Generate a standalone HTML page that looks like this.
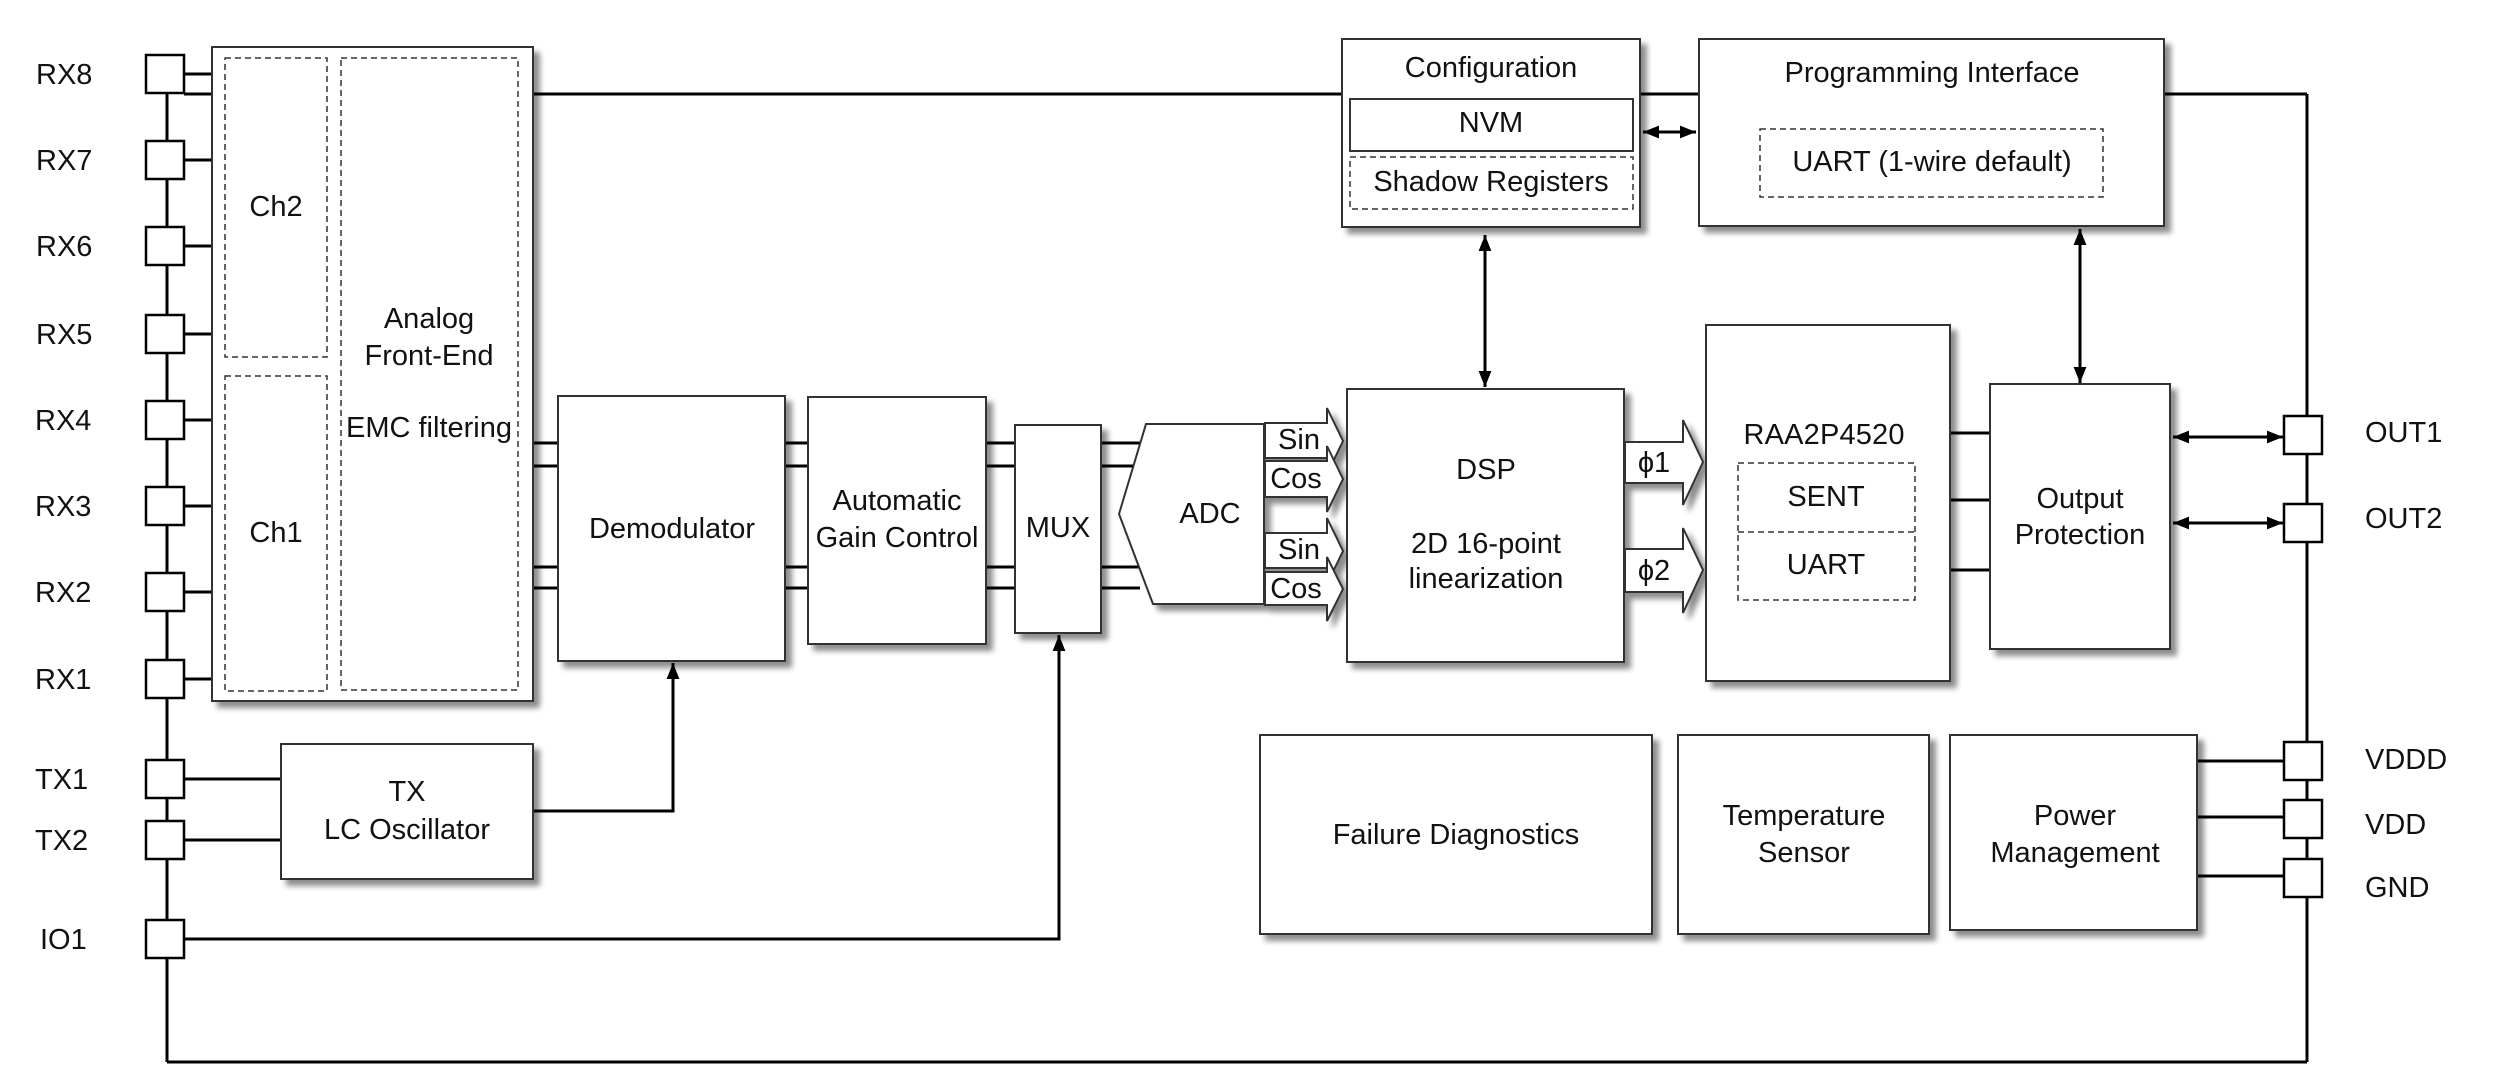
<!DOCTYPE html>
<html><head><meta charset="utf-8"><style>
html,body{margin:0;padding:0;background:#fff}
svg{display:block}
text{font-family:"Liberation Sans",sans-serif;font-size:29px;fill:#111}
</style></head><body>
<svg width="2501" height="1090" viewBox="0 0 2501 1090" xmlns="http://www.w3.org/2000/svg">
<defs>
<filter id="sh" x="-10%" y="-10%" width="130%" height="130%">
<feGaussianBlur in="SourceAlpha" stdDeviation="3"/>
<feOffset dx="6" dy="6" result="b"/>
<feComponentTransfer><feFuncA type="linear" slope="0.45"/></feComponentTransfer>
<feMerge><feMergeNode/><feMergeNode in="SourceGraphic"/></feMerge>
</filter>
<marker id="ah" viewBox="0 0 10 10" refX="10" refY="5" markerWidth="9" markerHeight="9" markerUnits="userSpaceOnUse" orient="auto-start-reverse"><path d="M0,0 L10,5 L0,10 z" fill="#000"/></marker>
<marker id="ah2" viewBox="0 0 10 10" refX="10" refY="5" markerWidth="16" markerHeight="16" markerUnits="userSpaceOnUse" orient="auto-start-reverse"><path d="M0,1 L10,5 L0,9 z" fill="#000"/></marker>
</defs>
<g stroke="#000" stroke-width="3" fill="none">
<!-- bus lines -->
<line x1="167" y1="74" x2="167" y2="1062"/>
<line x1="167" y1="1062" x2="2307" y2="1062"/>
<line x1="2307" y1="94" x2="2307" y2="1062"/>
<line x1="184" y1="94" x2="2307" y2="94"/>
<!-- pin stubs -->
<line x1="184" y1="74" x2="212" y2="74"/>
<line x1="184" y1="160" x2="212" y2="160"/>
<line x1="184" y1="246" x2="212" y2="246"/>
<line x1="184" y1="334" x2="212" y2="334"/>
<line x1="184" y1="420" x2="212" y2="420"/>
<line x1="184" y1="506" x2="212" y2="506"/>
<line x1="184" y1="592" x2="212" y2="592"/>
<line x1="184" y1="679" x2="212" y2="679"/>
<line x1="184" y1="779" x2="281" y2="779"/>
<line x1="184" y1="840" x2="281" y2="840"/>
<!-- signal lines -->
<line x1="518" y1="443" x2="1140" y2="443"/>
<line x1="518" y1="466" x2="1140" y2="466"/>
<line x1="518" y1="567" x2="1140" y2="567"/>
<line x1="518" y1="588" x2="1140" y2="588"/>
<line x1="1950" y1="433" x2="1990" y2="433"/>
<line x1="1950" y1="500" x2="1990" y2="500"/>
<line x1="1950" y1="570" x2="1990" y2="570"/>
<line x1="2197" y1="761" x2="2284" y2="761"/>
<line x1="2197" y1="817" x2="2284" y2="817"/>
<line x1="2197" y1="876" x2="2284" y2="876"/>
<!-- arrows -->
<polyline points="533,811 673,811 673,663" marker-end="url(#ah2)"/>
<polyline points="184,939 1059,939 1059,635" marker-end="url(#ah2)"/>
<line x1="1643" y1="132" x2="1696" y2="132" marker-start="url(#ah2)" marker-end="url(#ah2)"/>
<line x1="1485" y1="235" x2="1485" y2="387" marker-start="url(#ah2)" marker-end="url(#ah2)"/>
<line x1="2080" y1="229" x2="2080" y2="383" marker-start="url(#ah2)" marker-end="url(#ah2)"/>
<line x1="2173" y1="437" x2="2283" y2="437" marker-start="url(#ah2)" marker-end="url(#ah2)"/>
<line x1="2173" y1="523" x2="2283" y2="523" marker-start="url(#ah2)" marker-end="url(#ah2)"/>
</g>
<g stroke="#333" stroke-width="2" fill="#fff" filter="url(#sh)">
<rect x="212" y="47" width="321" height="654"/>
<rect x="558" y="396" width="227" height="265"/>
<rect x="808" y="397" width="178" height="247"/>
<rect x="1015" y="425" width="86" height="208"/>
<polygon points="1119,514 1146,424 1264,424 1264,604 1153,604"/>
<rect x="1347" y="389" width="277" height="273"/>
<rect x="1706" y="325" width="244" height="356"/>
<rect x="1990" y="384" width="180" height="265"/>
<rect x="1342" y="39" width="298" height="188"/>
<rect x="1699" y="39" width="465" height="187"/>
<rect x="281" y="744" width="252" height="135"/>
<rect x="1260" y="735" width="392" height="199"/>
<rect x="1678" y="735" width="251" height="199"/>
<rect x="1950" y="735" width="247" height="195"/>
<!-- block arrows -->
<polygon points="1265,423 1327,423 1327,408 1343,441 1327,474 1327,458 1265,458"/>
<polygon points="1265,461 1327,461 1327,446 1343,479 1327,512 1327,497 1265,497"/>
<polygon points="1265,533 1327,533 1327,518 1343,551 1327,584 1327,568 1265,568"/>
<polygon points="1265,572 1327,572 1327,557 1343,589 1327,621 1327,605 1265,605"/>
<polygon points="1625,442 1683,442 1683,420 1703,462 1683,505 1683,483 1625,483"/>
<polygon points="1625,549 1683,549 1683,528 1703,570 1683,613 1683,592 1625,592"/>
</g>
<g stroke="#333" stroke-width="1.5" fill="none" stroke-dasharray="6,4">
<rect x="225" y="58" width="102" height="299"/>
<rect x="225" y="376" width="102" height="315"/>
<rect x="341" y="58" width="177" height="632"/>
<rect x="1350" y="157" width="283" height="52"/>
<rect x="1760" y="129" width="343" height="68"/>
<rect x="1738" y="463" width="177" height="137"/>
<line x1="1738" y1="532" x2="1915" y2="532"/>
</g>
<rect x="1350" y="99" width="283" height="52" stroke="#333" stroke-width="2" fill="#fff"/>
<!-- pins -->
<g stroke="#000" stroke-width="2.5" fill="#fff">
<rect x="146" y="55" width="38" height="38"/>
<rect x="146" y="141" width="38" height="38"/>
<rect x="146" y="227" width="38" height="38"/>
<rect x="146" y="315" width="38" height="38"/>
<rect x="146" y="401" width="38" height="38"/>
<rect x="146" y="487" width="38" height="38"/>
<rect x="146" y="573" width="38" height="38"/>
<rect x="146" y="660" width="38" height="38"/>
<rect x="146" y="760" width="38" height="38"/>
<rect x="146" y="821" width="38" height="38"/>
<rect x="146" y="920" width="38" height="38"/>
<rect x="2284" y="416" width="38" height="38"/>
<rect x="2284" y="504" width="38" height="38"/>
<rect x="2284" y="742" width="38" height="38"/>
<rect x="2284" y="800" width="38" height="38"/>
<rect x="2284" y="859" width="38" height="38"/>
</g>
<!-- labels -->
<g>
<text x="36" y="84">RX8</text>
<text x="36" y="170">RX7</text>
<text x="36" y="256">RX6</text>
<text x="36" y="344">RX5</text>
<text x="35" y="430">RX4</text>
<text x="35" y="516">RX3</text>
<text x="35" y="602">RX2</text>
<text x="35" y="689">RX1</text>
<text x="35" y="789">TX1</text>
<text x="35" y="850">TX2</text>
<text x="40" y="949">IO1</text>
<text x="2365" y="442">OUT1</text>
<text x="2365" y="528">OUT2</text>
<text x="2365" y="769">VDDD</text>
<text x="2365" y="834">VDD</text>
<text x="2365" y="897">GND</text>
</g>
<g text-anchor="middle">
<text x="276" y="216">Ch2</text>
<text x="276" y="542">Ch1</text>
<text x="429" y="328">Analog</text>
<text x="429" y="365">Front-End</text>
<text x="429" y="437">EMC filtering</text>
<text x="672" y="538">Demodulator</text>
<text x="897" y="510">Automatic</text>
<text x="897" y="547">Gain Control</text>
<text x="1058" y="537">MUX</text>
<text x="1210" y="523">ADC</text>
<text x="1299" y="449" font-size="26">Sin</text>
<text x="1296" y="488" font-size="26">Cos</text>
<text x="1299" y="559" font-size="26">Sin</text>
<text x="1296" y="598" font-size="26">Cos</text>
<text x="1486" y="479">DSP</text>
<text x="1486" y="553">2D 16-point</text>
<text x="1486" y="588">linearization</text>
<text x="1654" y="472">ϕ1</text>
<text x="1654" y="580">ϕ2</text>
<text x="1824" y="444" textLength="161">RAA2P4520</text>
<text x="1826" y="506">SENT</text>
<text x="1826" y="574">UART</text>
<text x="2080" y="508">Output</text>
<text x="2080" y="544">Protection</text>
<text x="1491" y="77">Configuration</text>
<text x="1491" y="132">NVM</text>
<text x="1491" y="191">Shadow Registers</text>
<text x="1932" y="82">Programming Interface</text>
<text x="1932" y="171">UART (1-wire default)</text>
<text x="407" y="801">TX</text>
<text x="407" y="839">LC Oscillator</text>
<text x="1456" y="844">Failure Diagnostics</text>
<text x="1804" y="825">Temperature</text>
<text x="1804" y="862">Sensor</text>
<text x="2075" y="825">Power</text>
<text x="2075" y="862">Management</text>
</g>
</svg>
</body></html>
